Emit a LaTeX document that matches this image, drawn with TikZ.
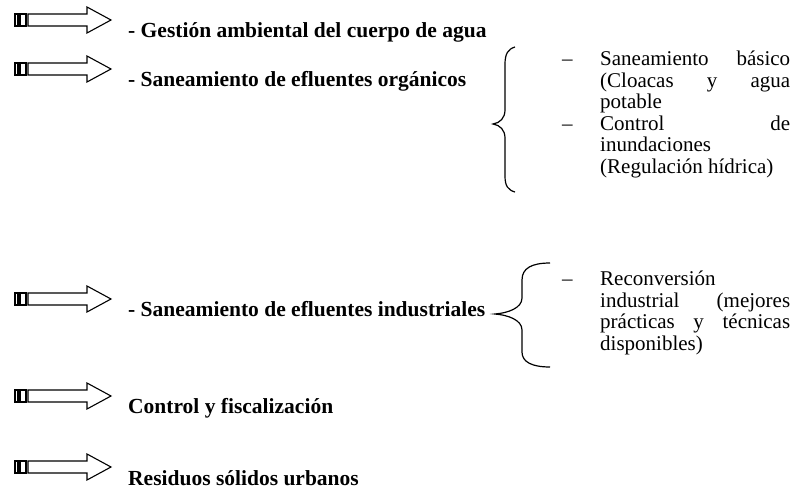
\documentclass[tikz,border=0pt]{standalone}
\usepackage{fontspec}
\setmainfont{Liberation Serif}
\begin{document}
\begin{tikzpicture}[x=1pt,y=-1pt,
  arrowline/.style={line width=1.1pt, line join=miter},
  lefttext/.style={anchor=base west, inner sep=0pt, font=\fontsize{21.5}{21.5}\selectfont\bfseries},
  righttext/.style={anchor=base west, inner sep=0pt, font=\fontsize{21}{21}\selectfont},
  bracestyle/.style={line width=1.2pt},
  stripearrow/.pic={
    \draw[arrowline] (15,-6) rectangle (18,6);
    \draw[arrowline] (20,-6) rectangle (26,6);
    \draw[arrowline] (28,-6) -- (87,-6) -- (87,-13) -- (111,0) -- (87,13) -- (87,6) -- (28,6) -- cycle;
  }]
\useasboundingbox (0,0) rectangle (795,496);

% arrows
\pic at (0,20) {stripearrow};
\pic at (0,69) {stripearrow};
\pic at (0,299) {stripearrow};
\pic at (0,396) {stripearrow};
\pic at (0,467) {stripearrow};

% left texts
\node[lefttext] (t1) at (128,37.5) {- Gestión ambiental del cuerpo de agua};
\node[lefttext] (t2) at (128,86.5) {- Saneamiento de efluentes orgánicos};
\node[lefttext] (t3) at (128,316.5) {- Saneamiento de efluentes industriales};
\node[lefttext] (t4) at (128,413.5) {Control y fiscalización};
\node[lefttext] (t5) at (128,485) {Residuos sólidos urbanos};

% brace 1
\draw[bracestyle] (515,47) .. controls (508,49) and (505,54) .. (505,64)
  -- (505,110) .. controls (505,118) and (500,123) .. (493,124)
  .. controls (500,125) and (505,130) .. (505,138)
  -- (505,176) .. controls (505,186) and (508,190) .. (515,192);

% brace 2
\draw[bracestyle] (550,263) .. controls (532,263) and (522,268) .. (522,280)
  -- (522,298) .. controls (522,308) and (508,313) .. (495,314)
  .. controls (508,315) and (522,320) .. (522,330)
  -- (522,352) .. controls (522,362) and (532,367) .. (550,367);

% right texts, item group 1
\node[righttext] (d1) at (562,65) {\textendash};
\node[righttext] (r11) at (600,65) {\makebox[190pt][s]{Saneamiento básico}};
\node[righttext] (r12) at (600,87) {\makebox[190pt][s]{(Cloacas y agua}};
\node[righttext] (r13) at (600,108.5) {potable};
\node[righttext] (d2) at (562,130) {\textendash};
\node[righttext] (r14) at (600,130) {\makebox[190pt][s]{Control de}};
\node[righttext] (r15) at (600,151.5) {inundaciones};
\node[righttext] (r16) at (600,173) {(Regulación hídrica)};

% right texts, item group 2
\node[righttext] (d3) at (562,285) {\textendash};
\node[righttext] (r21) at (600,285) {Reconversión};
\node[righttext] (r22) at (600,307) {\makebox[190pt][s]{industrial (mejores}};
\node[righttext] (r23) at (600,328.5) {\makebox[190pt][s]{prácticas y técnicas}};
\node[righttext] (r24) at (600,350) {disponibles)};
\end{tikzpicture}
\end{document}
